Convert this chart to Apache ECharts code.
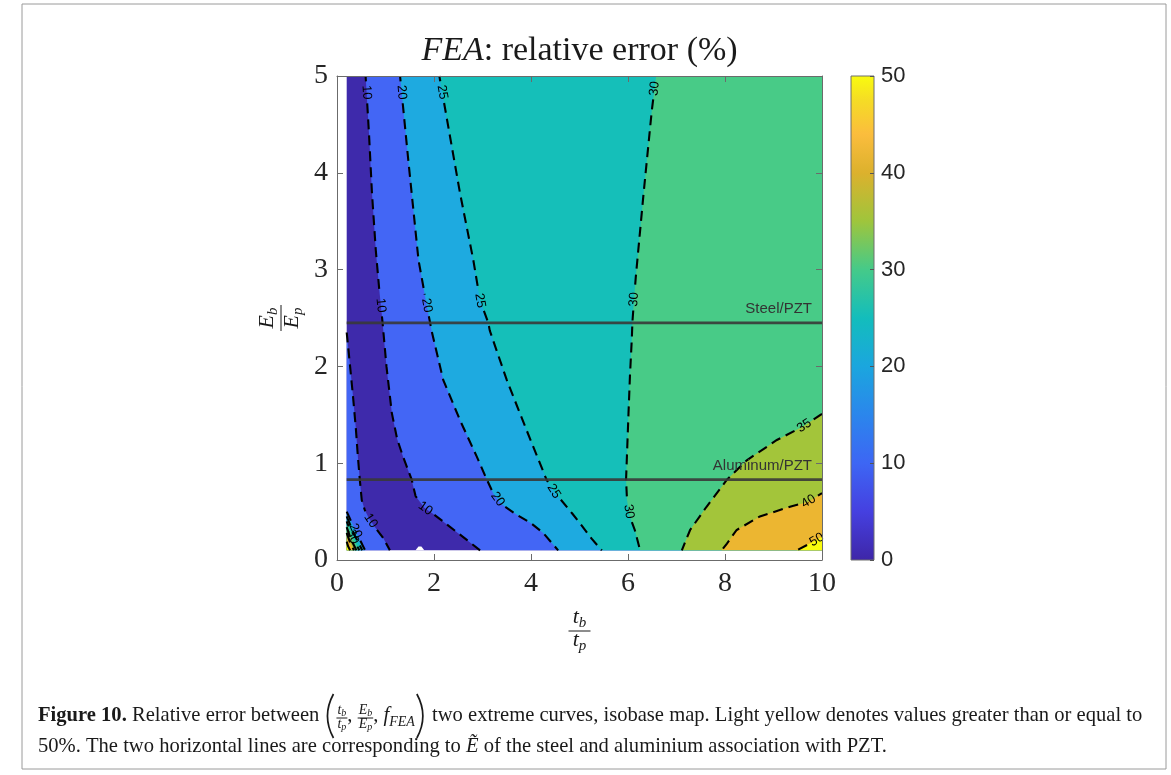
<!DOCTYPE html>
<html>
<head>
<meta charset="utf-8">
<script src="https://cdn.jsdelivr.net/npm/echarts@6/dist/echarts.min.js"></script>
<style>
  html, body { margin: 0; padding: 0; background: #fff; }
  #main { width: 1171px; height: 775px; }
</style>
</head>
<body>
<div id="main"></div>
<script>
// extent of the computed field (t_b/t_p, E_b/E_p)
const X_RANGE = [0.2, 10];
const Y_RANGE = [0.1, 5];
const CBAR_RANGE = [0, 50];
const X_TICK = 2, Y_TICK = 1, CBAR_TICK = 10;

// isolines, points as [t_b/t_p, E_b/E_p]
const C10_MAIN = [[0.59,5],[0.66,4.4],[0.72,3.8],[0.80,3.2],[0.87,2.8],[0.94,2.45],[1.02,2.0],[1.13,1.52],[1.24,1.25],[1.36,1.07],[1.54,0.83],[1.62,0.66],[1.80,0.54],[2.0,0.47],[2.26,0.37],[2.67,0.21],[2.95,0.1]];
const C10_LEFT = [[0.2,2.35],[0.27,2.0],[0.33,1.69],[0.39,1.35],[0.43,1.07],[0.47,0.83],[0.51,0.62],[0.57,0.52],[0.66,0.43],[0.78,0.34],[0.95,0.23],[1.09,0.1]];
const C20 = [[1.30,5],[1.47,4.13],[1.68,3.10],[1.85,2.63],[1.92,2.45],[1.95,2.37],[2.19,1.86],[2.54,1.44],[2.88,1.07],[3.09,0.83],[3.22,0.69],[3.38,0.58],[3.70,0.47],[4.0,0.38],[4.25,0.28],[4.56,0.1]];
const C25 = [[2.11,5],[2.54,3.78],[2.81,3.10],[2.95,2.68],[3.12,2.45],[3.15,2.37],[3.50,1.86],[3.91,1.34],[4.32,0.83],[4.47,0.71],[4.62,0.62],[4.85,0.48],[5.01,0.38],[5.25,0.22],[5.46,0.1]];
const C30 = [[6.58,5],[6.49,4.64],[6.32,3.78],[6.16,2.92],[6.12,2.66],[6.09,2.45],[6.08,2.30],[6.04,1.9],[6.01,1.51],[5.98,1.1],[5.96,0.83],[5.98,0.62],[6.03,0.46],[6.14,0.31],[6.25,0.1]];
const C35 = [[10,1.51],[9.61,1.38],[9.07,1.24],[8.45,1.03],[8.04,0.83],[7.62,0.55],[7.28,0.31],[7.11,0.1]];
const C40 = [[10,0.69],[9.71,0.60],[9.34,0.55],[8.72,0.45],[8.24,0.31],[8.04,0.17],[7.93,0.1]];
const C50 = [[10,0.24],[9.75,0.17],[9.48,0.1]];
// crowded isolines in the lower left corner
const K20 = [[0.2,0.50],[0.38,0.30],[0.58,0.1]];
const K25 = [[0.2,0.45],[0.35,0.27],[0.52,0.1]];
const K30 = [[0.2,0.40],[0.32,0.24],[0.46,0.1]];
const K35 = [[0.2,0.34],[0.29,0.21],[0.40,0.1]];
const K40 = [[0.2,0.28],[0.27,0.18],[0.35,0.1]];
const K50 = [[0.2,0.19],[0.23,0.14],[0.27,0.1]];
// small uncovered spot at the bottom edge
const HOLE = [[1.62,0.1],[1.68,0.14],[1.74,0.14],[1.80,0.1]];

// where the clabel numbers sit
const L10_MAIN = [[0.59,4.83],[0.89,2.63],[1.82,0.53]];
const L10_LEFT = [[0.68,0.40]];
const L20 = [[1.30,4.83],[1.85,2.63],[3.29,0.62]];
const L25 = [[2.13,4.83],[2.95,2.68],[4.44,0.70]];
const L30 = [[6.56,4.87],[6.14,2.69],[6.01,0.50]];
const L35 = [[9.63,1.39]];
const L40 = [[9.73,0.60]];
const L50 = [[9.89,0.21]];
const LK20 = [[0.38,0.30]];
const LK30 = [[0.32,0.24]];

// material lines
const REF_LINES = [2.45, 0.83];
const REF_NAMES = ['Steel/PZT', 'Aluminum/PZT'];

// colours
const BAND_COLOR = { 0: '#3e2aab', 10: '#4366f5', 20: '#1eaae0', 25: '#15bfb9', 30: '#48cb87',
  35: '#a3c53a', 40: '#ecb631', 50: '#f9fb0e', hole: '#ffffff' };
const PARULA = [[0,'#3e26a8'],[0.1,'#4540e0'],[0.2,'#3d66f4'],[0.3,'#2b86ec'],[0.4,'#1ba6de'],[0.5,'#13bdbc'],
  [0.6,'#45ca89'],[0.7,'#9fc53c'],[0.8,'#dcb12d'],[0.88,'#fbbd3d'],[0.95,'#f5dc25'],[1,'#f9fb0e']];

const X0 = X_RANGE[0], X1 = X_RANGE[1], Y0 = Y_RANGE[0], Y1 = Y_RANGE[1];

// painter's order: each region is the set where the error >= level
const REGIONS = [
  { level: 0, pts: [[X0,Y0],[X1,Y0],[X1,Y1],[X0,Y1]] },
  { level: 10, pts: C10_MAIN.concat([[X1,Y0],[X1,Y1]]) },
  { level: 10, pts: C10_LEFT.concat([[X0,Y0]]) },
  { level: 20, pts: C20.concat([[X1,Y0],[X1,Y1]]) },
  { level: 20, pts: K20.concat([[X0,Y0]]) },
  { level: 25, pts: C25.concat([[X1,Y0],[X1,Y1]]) },
  { level: 25, pts: K25.concat([[X0,Y0]]) },
  { level: 30, pts: C30.concat([[X1,Y0],[X1,Y1]]) },
  { level: 30, pts: K30.concat([[X0,Y0]]) },
  { level: 35, pts: C35.concat([[X1,Y0]]) },
  { level: 35, pts: K35.concat([[X0,Y0]]) },
  { level: 40, pts: C40.concat([[X1,Y0]]) },
  { level: 40, pts: K40.concat([[X0,Y0]]) },
  { level: 50, pts: C50.concat([[X1,Y0]]) },
  { level: 50, pts: K50.concat([[X0,Y0]]) },
  { level: 'hole', pts: HOLE }
];

const CONTOURS = [
  { pts: C10_MAIN, labels: L10_MAIN, text: '10' },
  { pts: C10_LEFT, labels: L10_LEFT, text: '10' },
  { pts: C20, labels: L20, text: '20' },
  { pts: C25, labels: L25, text: '25' },
  { pts: C30, labels: L30, text: '30' },
  { pts: C35, labels: L35, text: '35' },
  { pts: C40, labels: L40, text: '40' },
  { pts: C50, labels: L50, text: '50' },
  { pts: K20, labels: LK20, text: '20' },
  { pts: K25, labels: [], text: '25' },
  { pts: K30, labels: LK30, text: '30' },
  { pts: K35, labels: [], text: '35' },
  { pts: K40, labels: [], text: '40' },
  { pts: K50, labels: [], text: '50' }
];

const SERIF = '"Liberation Serif", "Times New Roman", serif';
const SANS = '"Liberation Sans", Arial, Helvetica, sans-serif';
const INK = '#1a1a1a';
const AXIS_GRAY = '#6b6b6b';
const GAP = 11;

const mctx = document.createElement('canvas').getContext('2d');
function measure(text, font) { mctx.font = font; return mctx.measureText(text).width; }
function fnt(size, it, bold) { return (it ? 'italic ' : '') + (bold ? 'bold ' : '') + size + 'px ' + SERIF; }
function txt(text, x, y, font, extra) {
  return Object.assign({ type: 'text', x: x, y: y, silent: true,
    style: { text: text, font: font, fill: INK, align: 'left', verticalAlign: 'middle',
      textAlign: 'left', textVerticalAlign: 'middle' } }, extra || {});
}
// a row of pieces [text, size, italic, dy] sharing one baseline
function mathRow(parts, cx, baseline) {
  const ws = parts.map(p => measure(p[0], fnt(p[1], p[2])));
  let x = cx - ws.reduce((a, b) => a + b, 0) / 2;
  return parts.map((p, i) => {
    const el = txt(p[0], x, baseline + (p[3] || 0) - 0.3375 * p[1], fnt(p[1], p[2]));
    x += ws[i];
    return el;
  });
}
function rowWidth(parts) { return parts.reduce((a, p) => a + measure(p[0], fnt(p[1], p[2])), 0); }
function fraction(num, den, cx, barY, numGap, denGap, barHalf) {
  return mathRow(num, cx, barY - numGap).concat(mathRow(den, cx, barY + denGap)).concat([{
    type: 'line', silent: true, shape: { x1: cx - barHalf, y1: barY, x2: cx + barHalf, y2: barY },
    style: { stroke: INK, lineWidth: 1 } }]);
}

function renderFill(params, api) {
  const r = REGIONS[api.value(2)];
  return { type: 'polygon', shape: { points: r.pts.map(p => api.coord(p)) },
    style: { fill: BAND_COLOR[r.level], stroke: null } };
}

function renderContour(params, api) {
  const c = CONTOURS[api.value(2)];
  const pts = c.pts.map(p => api.coord(p));
  const cum = [0];
  for (let i = 1; i < pts.length; i++) {
    cum.push(cum[i - 1] + Math.hypot(pts[i][0] - pts[i - 1][0], pts[i][1] - pts[i - 1][1]));
  }
  const total = cum[cum.length - 1];
  const at = s => {
    for (let i = 0; i < pts.length - 1; i++) {
      if (s <= cum[i + 1] || i === pts.length - 2) {
        const t = (s - cum[i]) / ((cum[i + 1] - cum[i]) || 1);
        return [pts[i][0] + t * (pts[i + 1][0] - pts[i][0]), pts[i][1] + t * (pts[i + 1][1] - pts[i][1])];
      }
    }
  };
  const children = [], texts = [], gaps = [];
  c.labels.forEach(lp => {
    const q = api.coord(lp);
    let best = null;
    for (let i = 0; i < pts.length - 1; i++) {
      const a = pts[i], b = pts[i + 1], dx = b[0] - a[0], dy = b[1] - a[1];
      const L2 = dx * dx + dy * dy || 1;
      let t = ((q[0] - a[0]) * dx + (q[1] - a[1]) * dy) / L2;
      t = Math.max(0, Math.min(1, t));
      const px = a[0] + t * dx, py = a[1] + t * dy, d = Math.hypot(q[0] - px, q[1] - py);
      if (!best || d < best.d) best = { d: d, s: cum[i] + t * Math.sqrt(L2), x: px, y: py, dx: dx, dy: dy };
    }
    let ang = Math.atan2(-best.dy, best.dx);
    if (ang > Math.PI / 2) ang -= Math.PI;
    if (ang <= -Math.PI / 2) ang += Math.PI;
    gaps.push([best.s - GAP, best.s + GAP]);
    texts.push({ type: 'text', x: best.x, y: best.y, rotation: ang,
      style: { text: c.text, font: '13px ' + SANS, fill: '#000', align: 'center', verticalAlign: 'middle',
        textAlign: 'center', textVerticalAlign: 'middle' } });
  });
  gaps.sort((a, b) => a[0] - b[0]);
  let start = 0;
  const pieces = [];
  gaps.forEach(g => { if (g[0] > start) pieces.push([start, g[0]]); start = Math.max(start, g[1]); });
  if (start < total) pieces.push([start, total]);
  pieces.forEach(pc => {
    const a = pc[0], b = pc[1];
    if (b - a < 2) return;
    const pl = [at(a)];
    for (let i = 1; i < pts.length - 1; i++) if (cum[i] > a && cum[i] < b) pl.push(pts[i]);
    pl.push(at(b));
    children.push({ type: 'polyline', shape: { points: pl },
      style: { stroke: '#000', lineWidth: 2.1, lineDash: [10, 6], fill: null } });
  });
  return { type: 'group', children: children.concat(texts) };
}

function renderRef(params, api) {
  const y = api.value(1), i = api.value(2);
  const a = api.coord([X0, y]), b = api.coord([X1, y]);
  return { type: 'group', children: [
    { type: 'line', shape: { x1: a[0], y1: a[1], x2: b[0], y2: b[1] },
      style: { stroke: '#383838', lineWidth: 2.8, opacity: 0.9 } },
    { type: 'text', x: b[0] - 10, y: a[1] - 14,
      style: { text: REF_NAMES[i], font: '15px ' + SANS, fill: '#333', align: 'right', verticalAlign: 'middle',
        textAlign: 'right', textVerticalAlign: 'middle' } }
  ] };
}

// ---------- texts outside the plot ----------
const graphics = [];
graphics.push({ type: 'rect', silent: true, shape: { x: 22, y: 4, width: 1144, height: 765 },
  style: { fill: null, stroke: '#9a9a9a', lineWidth: 1 } });

// title
(function () {
  const size = 34;
  const parts = [['FEA', size, true], [': relative error (%)', size, false]];
  graphics.push.apply(graphics, mathRow(parts, 579.5, 63));
})();

// y label, a fraction turned a quarter turn
graphics.push({ type: 'group', x: 281, y: 318, rotation: Math.PI / 2, silent: true,
  children: fraction([['E', 22, true], ['b', 15, true, 3]], [['E', 22, true], ['p', 15, true, 3]], 0, 0, 6, 19, 13) });

// x label
graphics.push({ type: 'group', x: 579.5, y: 631, silent: true,
  children: fraction([['t', 22, true], ['b', 15, true, 3]], [['t', 22, true], ['p', 15, true, 3]], 0, 0, 6, 17, 11) });

// caption
(function () {
  const line2a = '50%. The two horizontal lines are corresponding to ';
  const line2b = ' of the steel and aluminium association with PZT.';
  const probe = measure(line2a + 'E' + line2b, fnt(19));
  const S = Math.max(16, Math.min(22, 19 * 849 / probe));
  const B1 = 723, B2 = 754, BAR = B1 - 5;
  let cx = 38;
  function put(s, size, it, bold, baseline) {
    const f = fnt(size, it, bold);
    graphics.push(txt(s, cx, baseline - 0.3375 * size, f));
    cx += measure(s, f);
  }
  // tall thin delimiters drawn as curves
  function paren(open) {
    const top = BAR - 24, bot = BAR + 20, w = 9;
    const mid = (top + bot) / 2;
    const xe = open ? cx + w : cx + 2, xc = open ? cx - 3 : cx + w + 5;
    graphics.push({ type: 'bezierCurve', silent: true,
      shape: { x1: xe, y1: top, x2: xe, y2: bot, cpx1: xc, cpy1: mid },
      style: { stroke: INK, lineWidth: 1.7, fill: null } });
    cx += w + 3;
  }
  function frac(a, b) {
    const fs = Math.round(S * 0.68), ss = Math.round(S * 0.48);
    const num = [[a[0], fs, true], [a[1], ss, true, 2]];
    const den = [[b[0], fs, true], [b[1], ss, true, 2]];
    const w = Math.max(rowWidth(num), rowWidth(den)) + 2;
    graphics.push.apply(graphics, fraction(num, den, cx + w / 2, BAR, 3, 11, w / 2));
    cx += w;
  }
  put('Figure 10.', S, false, true, B1);
  put(' Relative error between ', S, false, false, B1);
  paren(true);
  frac(['t', 'b'], ['t', 'p']);
  put(', ', S, false, false, B1);
  frac(['E', 'b'], ['E', 'p']);
  put(', ', S, false, false, B1);
  put('f', S, true, false, B1);
  put('FEA', Math.round(S * 0.68), true, false, B1 + 4);
  paren(false);
  put(' two extreme curves, isobase map. Light yellow denotes values greater than or equal to', S, false, false, B1);
  cx = 38;
  put(line2a, S, false, false, B2);
  put('\u1EBC', S, true, false, B2);
  put(line2b, S, false, false, B2);
})();

const axisLineStyle = { color: AXIS_GRAY, width: 1 };
function frameAxis(extra) {
  return Object.assign({
    type: 'value', gridIndex: 0, z: 10,
    axisLine: { show: true, onZero: false, lineStyle: axisLineStyle },
    axisTick: { show: true, inside: true, length: 6, lineStyle: axisLineStyle },
    axisLabel: { show: false },
    splitLine: { show: false }
  }, extra);
}
const tickLabel = { show: true, fontFamily: SERIF, fontSize: 28, color: '#262626' };

const chart = echarts.init(document.getElementById('main'));
chart.setOption({
  animation: false,
  backgroundColor: '#ffffff',
  grid: [
    { left: 337, top: 76, width: 485, height: 484, show: false },
    { left: 851, top: 76, width: 23, height: 484, show: true, borderColor: '#6e6e6e', borderWidth: 1,
      backgroundColor: 'transparent', z: 5 }
  ],
  xAxis: [
    frameAxis({ min: 0, max: X1, interval: X_TICK, position: 'bottom',
      axisLabel: Object.assign({ margin: 10 }, tickLabel) }),
    frameAxis({ min: 0, max: X1, interval: X_TICK, position: 'top' }),
    { type: 'category', gridIndex: 1, data: ['bar'], show: false }
  ],
  yAxis: [
    frameAxis({ min: 0, max: Y1, interval: Y_TICK, position: 'left',
      axisLabel: Object.assign({ margin: 9 }, tickLabel) }),
    frameAxis({ min: 0, max: Y1, interval: Y_TICK, position: 'right' }),
    { type: 'value', gridIndex: 1, min: CBAR_RANGE[0], max: CBAR_RANGE[1], interval: CBAR_TICK, position: 'right', z: 10,
      axisLine: { show: false },
      axisTick: { show: true, inside: true, length: 4, lineStyle: { color: '#555' } },
      axisLabel: { margin: 7, fontFamily: SANS, fontSize: 22, color: '#262626' },
      splitLine: { show: false } }
  ],
  series: [
    { type: 'custom', name: 'bands', xAxisIndex: 0, yAxisIndex: 0, z: 1, silent: true,
      renderItem: renderFill, data: REGIONS.map((r, i) => [X0, Y0, i]) },
    { type: 'custom', name: 'isolines', xAxisIndex: 0, yAxisIndex: 0, z: 3, silent: true,
      renderItem: renderContour, data: CONTOURS.map((c, i) => [X0, Y0, i]) },
    { type: 'custom', name: 'materials', xAxisIndex: 0, yAxisIndex: 0, z: 4, silent: true,
      renderItem: renderRef, data: REF_LINES.map((y, i) => [X0, y, i]) },
    { type: 'bar', name: 'colorbar', xAxisIndex: 2, yAxisIndex: 2, silent: true, barWidth: '100%',
      data: [CBAR_RANGE[1]],
      itemStyle: { color: new echarts.graphic.LinearGradient(0, 1, 0, 0,
        PARULA.map(s => ({ offset: s[0], color: s[1] }))) } }
  ],
  graphic: graphics
});
</script>
</body>
</html>
